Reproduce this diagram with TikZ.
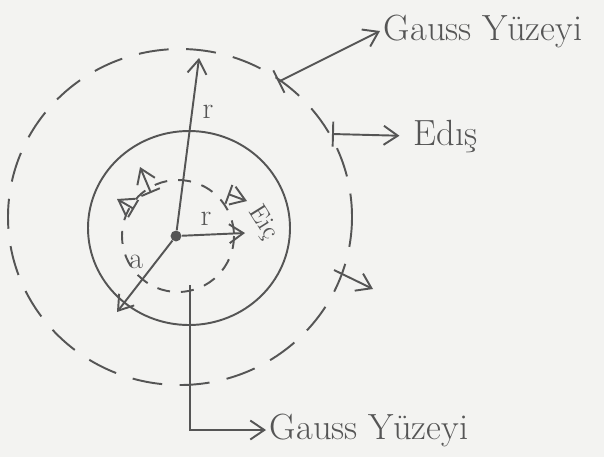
\documentclass[tikz,border=0pt]{standalone}
\usepackage{tikz}
\usepackage{xcolor}
\usetikzlibrary{arrows.meta,positioning}
\definecolor{paper}{HTML}{F3F3F1}
\definecolor{pencil}{HTML}{555555}

\begin{document}
\begin{tikzpicture}[x=0.02cm,y=-0.02cm,
    >={Straight Barb[length=2.8mm,width=3.8mm]},
    pen/.style={draw=pencil,line width=1.1pt},
    ring/.style={pen,dash pattern=on 6mm off 3.5mm},
    inring/.style={pen,dash pattern=on 2.6mm off 2.2mm},
    txt/.style={text=pencil,font=\huge,inner sep=2pt},
    sym/.style={text=pencil,font=\LARGE,inner sep=1pt}]
    \path[use as bounding box,fill=paper] (0,0) rectangle (604,457);
    % surfaces
    \draw[ring] (180,217) ellipse [x radius=172,y radius=168];
    \draw[pen] (189,228) ellipse [x radius=101,y radius=97];
    \draw[inring] (178,236) circle [radius=56];
    \node[circle,fill=pencil,inner sep=2.2pt] (O) at (176,236) {};
    % radii
    \coordinate (rTop) at (199,58);
    \coordinate (aEnd) at (117,312);
    \coordinate (rIn) at (245,233);
    \draw[pen,->] (O) -- (rTop);
    \draw[pen,->] (O) -- (aEnd);
    \draw[pen,->] (O) -- (rIn);
    \node[sym] (rBig) at (208,112) {r};
    \node[sym] (aLbl) at (136,262) {a};
    \node[sym] (rSmall) at (206,219) {r};
    % field arrows
    \coordinate (f1s) at (134,209);
    \coordinate (f1e) at (117,199);
    \coordinate (f2s) at (151,193);
    \coordinate (f2e) at (140,167);
    \coordinate (f3s) at (228,194);
    \coordinate (f3e) at (247,201);
    \coordinate (f4s) at (334,270);
    \coordinate (f4e) at (373,289);
    \draw[pen,{Bar[width=4mm]}->] (f1s) -- (f1e);
    \draw[pen,{Bar[width=4mm]}->] (f2s) -- (f2e);
    \draw[pen,{Bar[width=4mm]}->] (f3s) -- (f3e);
    \draw[pen,->] (f4s) -- (f4e);
    \node[sym,font=\Large,rotate=-58] (eIn) at (263,223) {Eiç};
    % labels
    \node[txt,anchor=west] (gaussTop) at (380,31) {Gauss Yüzeyi};
    \node[txt,anchor=west] (edis) at (410,136) {Edış};
    \node[txt,anchor=west] (gaussBot) at (266,430) {Gauss Yüzeyi};
    \coordinate (gTail) at (278,82);
    \coordinate (eTail) at (332,134);
    \coordinate (bTail) at (190,285);
    \draw[pen,{Bar[width=5mm]}->] (gTail) -- (gaussTop.west);
    \draw[pen,{Bar[width=5mm]}->,shorten >=6pt] (eTail) -- (edis.west);
    \draw[pen,->] (bTail) |- (gaussBot.west);
\end{tikzpicture}
\end{document}
